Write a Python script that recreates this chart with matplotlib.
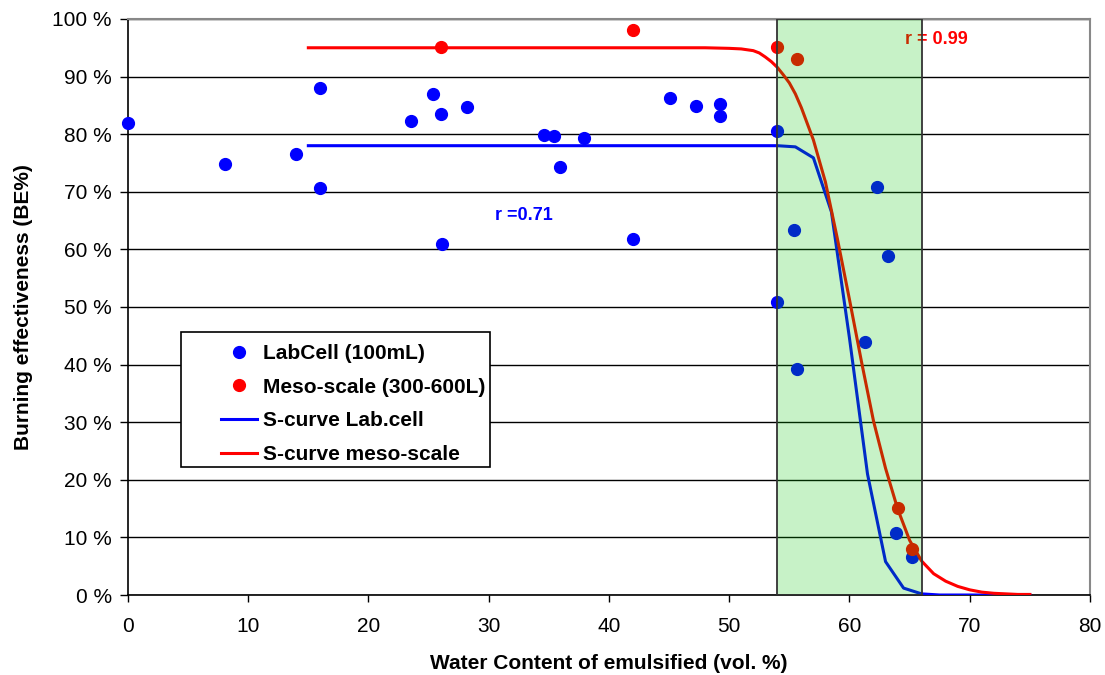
import matplotlib
matplotlib.use("Agg")
import matplotlib.pyplot as plt
from matplotlib.patches import Rectangle

plt.rcParams['font.family'] = ['Liberation Sans', 'DejaVu Sans']

# LabCell (100 mL) measurements
labX = [0, 8.1, 14.0, 16.0, 16.0, 23.5, 25.4, 26.0, 26.1, 28.2, 34.6, 35.4, 35.9, 37.9,
        42.0, 45.1, 47.2, 49.2, 49.2, 54.0, 54.0, 55.4, 55.6, 61.3, 62.3, 63.2, 63.9, 65.2]
labY = [81.9, 74.8, 76.6, 88.0, 70.7, 82.3, 87.0, 83.5, 60.9, 84.7, 79.9, 79.7, 74.3, 79.3,
        61.8, 86.3, 84.9, 85.2, 83.2, 80.6, 50.9, 63.4, 39.2, 43.9, 70.8, 58.9, 10.8, 6.6]

# Meso-scale (300-600 L) measurements
mesoX = [26.0, 42.0, 54.0, 55.6, 64.0, 65.2]
mesoY = [95.1, 98.1, 95.1, 93.1, 15.1, 8.0]

# fitted S-curves
sLabX = [15, 54, 55.5, 57, 58.5, 60, 61.5, 63, 64.5, 66, 67.5, 75]
sLabY = [78, 78, 77.8, 75.9, 66.5, 44.6, 21, 5.8, 1.2, 0.2, 0, 0]

sMesoX = [15, 45, 48, 50, 51, 52, 52.5, 53, 53.5, 54, 54.5, 55, 55.5, 56, 57, 58, 59, 60,
          61, 62, 63, 64, 65, 66, 67, 68, 69, 70, 71, 72, 73, 74, 75]
sMesoY = [95, 95, 95, 94.9, 94.8, 94.5, 94.1, 93.4, 92.6, 91.6, 90.3, 88.9, 87.0, 84.6,
          79.0, 71.7, 61.8, 51.3, 40.5, 30.2, 22.0, 15.0, 9.5, 5.9, 3.7, 2.4, 1.5, 0.9,
          0.5, 0.3, 0.2, 0.1, 0.1]

# water content window
bandStart, bandEnd = 54, 66

xTicks = list(range(0, 81, 10))
yTicks = list(range(0, 101, 10))

fig = plt.figure(figsize=(11.05, 6.75), dpi=100)
ax = fig.add_axes([0.1158, 0.1185, 0.8706, 0.8534])

ax.plot(labX, labY, 'o', color='#0000ff', markersize=8.5, label='LabCell (100mL)',
        zorder=3, clip_on=False)
ax.plot(mesoX, mesoY, 'o', color='#ff0000', markersize=8.5, label='Meso-scale (300-600L)',
        zorder=3, clip_on=False)
ax.plot(sLabX, sLabY, '-', color='#0000ff', lw=2.2, label='S-curve Lab.cell', zorder=3)
ax.plot(sMesoX, sMesoY, '-', color='#ff0000', lw=2.2, label='S-curve meso-scale', zorder=3)

ax.add_patch(Rectangle((bandStart, 0), bandEnd - bandStart, 100, facecolor='#00c800',
                       alpha=0.22, edgecolor='none', zorder=4))
ax.add_patch(Rectangle((bandStart, 0), bandEnd - bandStart, 100, facecolor='none',
                       edgecolor='#333333', lw=1.3, zorder=5))

ax.text(64.6, 96.4, 'r = 0.99', color='#ff0000', fontsize=13, fontweight='bold', va='center')
ax.text(30.5, 65.8, 'r =0.71', color='#0000ff', fontsize=13, fontweight='bold', va='center')

ax.set_xlim(0, 80)
ax.set_ylim(0, 100)
ax.set_xticks(xTicks)
ax.set_yticks(yTicks)
ax.set_yticklabels([f'{v} %' for v in yTicks])
ax.tick_params(labelsize=15, width=1, direction='out')
ax.tick_params(axis='x', length=5, pad=11)
ax.tick_params(axis='y', length=6, pad=5.5)
ax.yaxis.grid(True, color='black', lw=1)
ax.set_axisbelow(True)

for s in ['top', 'right']:
    ax.spines[s].set_color('#888888')
    ax.spines[s].set_linewidth(1.5)
for s in ['left', 'bottom']:
    ax.spines[s].set_color('black')
    ax.spines[s].set_linewidth(1.2)

ax.set_xlabel('Water Content of emulsified (vol. %)', fontsize=15, fontweight='bold', labelpad=13)
ax.set_ylabel('Burning effectiveness (BE%)', fontsize=15, fontweight='bold', labelpad=14)

# legend box drawn separately so the entries can sit off-centre inside it
ax.add_patch(Rectangle((0.0551, 0.2222), 0.3212, 0.2344, transform=ax.transAxes,
                       facecolor='white', edgecolor='black', lw=1.2, zorder=6))
leg = ax.legend(loc='upper left', bbox_to_anchor=(0.0967, 0.4356), borderaxespad=0,
                frameon=False, borderpad=0, prop={'size': 15, 'weight': 'bold'},
                handlelength=1.75, handletextpad=0.25, labelspacing=0.70)
leg.set_zorder(7)

fig.savefig('out.png', dpi=100)
